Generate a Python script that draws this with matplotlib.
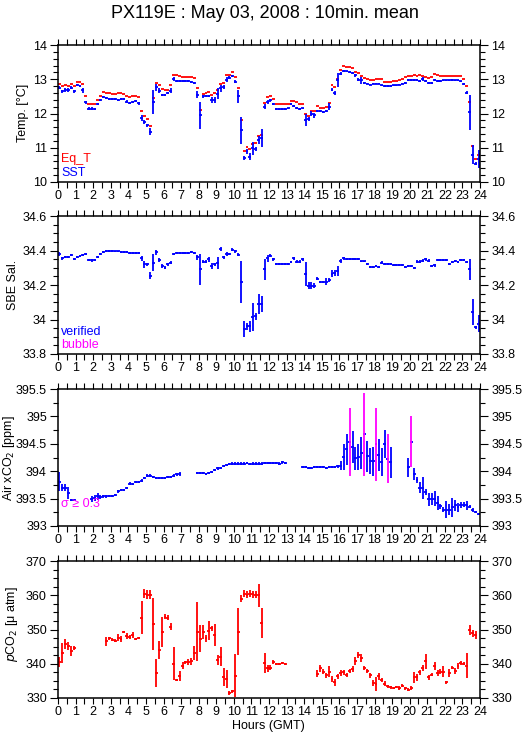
import numpy as np
import matplotlib.pyplot as plt
from matplotlib.ticker import MultipleLocator, FormatStrFormatter

plt.rcParams['font.family'] = ['Liberation Sans', 'DejaVu Sans']

nan = np.nan

# 10-minute means, 144 bins over the day (one row = one hour)
eq_t = [
    12.87, 12.80, 12.83, 12.80, 12.87, 12.80,
    12.93, 12.93, 12.87, 12.51, 12.29, 12.29,
    12.27, 12.39, 12.51, 12.62, 12.59, 12.59,
    12.57, 12.58, 12.59, 12.59, 12.57, 12.50,
    12.48, 12.51, 12.52, 12.48, 12.07, 11.92,
    11.85, 11.63, 12.45, 12.90, 12.82, 12.72,
    12.68, 12.68, 12.82, 13.12, 13.12, 13.10,
    13.08, 13.08, 13.07, 13.07, 13.05, 12.73,
    12.10, 12.58, 12.60, 12.63, 12.55, 12.60,
    12.68, 12.87, 12.88, 13.13, 13.13, 13.22,
    13.08, 12.73, 11.80, 10.90, 11.02, 10.95,
    11.10, 11.13, 11.35, 11.38, 12.30, 12.47,
    12.52, 12.42, 12.27, 12.27, 12.27, 12.27,
    12.27, 12.37, 12.37, 12.33, 12.27, 12.27,
    12.00, 11.93, 12.08, 12.07, 12.23, 12.17,
    12.15, 12.18, 12.30, 12.82, 12.77, 13.02,
    13.27, 13.38, 13.35, 13.35, 13.32, 13.22,
    13.17, 13.10, 13.03, 13.00, 12.97, 12.97,
    13.02, 13.02, 13.02, 12.93, 12.92, 12.93,
    12.95, 12.95, 12.97, 13.02, 13.07, 13.10,
    13.10, 13.12, 13.10, 13.13, 13.10, 13.07,
    13.05, 13.07, 13.15, 13.12, 13.10, 13.10,
    13.10, 13.10, 13.10, 13.10, 13.10, 13.10,
    13.00, 12.80, 12.35, 11.05, 10.68, 10.78,
]

sst = [
    12.75, 12.65, 12.68, 12.68, 12.75, 12.65,
    12.83, 12.80, 12.68, 12.33, 12.14, 12.14,
    12.13, 12.27, 12.39, 12.48, 12.46, 12.42,
    12.42, 12.41, 12.40, 12.42, 12.42, 12.34,
    12.32, 12.34, 12.36, 12.30, 11.87, 11.75,
    11.65, 11.47, 12.35, 12.77, 12.67, 12.55,
    12.55, 12.60, 12.67, 13.01, 12.95, 12.96,
    12.95, 12.95, 12.94, 12.93, 12.90, 12.55,
    11.95, 12.50, 12.52, 12.52, 12.40, 12.40,
    12.58, 12.73, 12.77, 12.99, 13.05, 13.10,
    12.93, 12.50, 11.51, 10.70, 10.90, 10.74,
    10.98, 10.96, 11.22, 11.29, 12.20, 12.33,
    12.38, 12.27, 12.13, 12.13, 12.13, 12.13,
    12.15, 12.27, 12.23, 12.17, 12.13, 12.15,
    11.81, 11.84, 11.99, 11.95, 12.08, 12.07,
    12.05, 12.08, 12.20, 12.70, 12.61, 12.97,
    13.16, 13.23, 13.23, 13.21, 13.19, 13.11,
    12.99, 12.97, 12.89, 12.87, 12.84, 12.87,
    12.87, 12.87, 12.82, 12.80, 12.80, 12.80,
    12.82, 12.82, 12.84, 12.87, 12.90, 12.97,
    12.97, 12.97, 12.97, 12.95, 13.00, 12.94,
    12.89, 12.90, 12.99, 12.95, 12.95, 12.97,
    12.97, 12.97, 12.98, 12.97, 12.97, 12.94,
    12.86, 12.61, 12.03, 10.80, 10.54, 10.67,
]

sst_sd = [
    0.04, 0.05, 0.05, 0.05, 0.04, 0.05,
    0.03, 0.04, 0.07, 0.04, 0.05, 0.05,
    0.03, 0.03, 0.03, 0.03, 0.03, 0.04,
    0.03, 0.03, 0.03, 0.03, 0.03, 0.04,
    0.03, 0.03, 0.03, 0.04, 0.10, 0.07,
    0.05, 0.10, 0.35, 0.10, 0.07, 0.03,
    0.03, 0.03, 0.07, 0.05, 0.03, 0.03,
    0.03, 0.03, 0.03, 0.03, 0.03, 0.10,
    0.40, 0.05, 0.03, 0.03, 0.08, 0.08,
    0.15, 0.10, 0.05, 0.07, 0.05, 0.03,
    0.05, 0.20, 0.40, 0.05, 0.07, 0.10,
    0.20, 0.05, 0.12, 0.27, 0.08, 0.05,
    0.04, 0.03, 0.02, 0.02, 0.02, 0.02,
    0.02, 0.03, 0.03, 0.03, 0.03, 0.02,
    0.18, 0.07, 0.07, 0.07, 0.03, 0.03,
    0.03, 0.03, 0.10, 0.04, 0.06, 0.20,
    0.04, 0.03, 0.02, 0.02, 0.03, 0.03,
    0.05, 0.10, 0.03, 0.02, 0.02, 0.02,
    0.02, 0.02, 0.02, 0.02, 0.02, 0.02,
    0.02, 0.02, 0.02, 0.02, 0.03, 0.03,
    0.03, 0.03, 0.03, 0.03, 0.06, 0.03,
    0.03, 0.03, 0.03, 0.02, 0.02, 0.02,
    0.02, 0.02, 0.02, 0.02, 0.02, 0.02,
    0.03, 0.04, 0.50, 0.27, 0.03, 0.27,
]

sal = [
    34.380, 34.355, 34.360, 34.360, 34.375, 34.350,
    34.365, 34.370, 34.375, 34.380, 34.345, 34.343,
    34.345, 34.360, 34.380, 34.390, 34.397, 34.397,
    34.397, 34.395, 34.395, 34.393, 34.390, 34.390,
    34.385, 34.385, 34.385, 34.385, 34.355, 34.320,
    34.320, 34.253, 34.330, 34.390, 34.345, 34.310,
    34.300, 34.320, 34.330, 34.380, 34.385, 34.385,
    34.385, 34.385, 34.385, 34.390, 34.385, 34.360,
    34.290, 34.335, 34.335, 34.350, 34.310, 34.320,
    34.330, 34.410, 34.360, 34.380, 34.380, 34.405,
    34.395, 34.375, 34.217, 33.946, 33.960, 33.960,
    34.013, 34.020, 34.090, 34.090, 34.290, 34.355,
    34.370, 34.350, 34.320, 34.320, 34.320, 34.320,
    34.320, 34.335, 34.355, 34.335, 34.335, 34.350,
    34.263, 34.195, 34.195, 34.195, 34.236, 34.218,
    34.218, 34.218, 34.230, 34.265, 34.270, 34.280,
    34.340, 34.355, 34.350, 34.350, 34.350, 34.350,
    34.350, 34.337, 34.337, 34.320, 34.305, 34.305,
    34.310, 34.305, 34.330, 34.320, 34.320, 34.320,
    34.315, 34.315, 34.318, 34.315, 34.305, 34.310,
    34.310, 34.300, 34.335, 34.335, 34.340, 34.350,
    34.340, 34.310, 34.315, 34.343, 34.343, 34.343,
    34.343, 34.323, 34.335, 34.340, 34.333, 34.345,
    34.345, 34.333, 34.290, 34.045, 33.955, 33.975,
]

sal_sd = [
    0.010, 0.008, 0.006, 0.006, 0.006, 0.006,
    0.006, 0.006, 0.006, 0.008, 0.008, 0.008,
    0.006, 0.006, 0.006, 0.006, 0.006, 0.006,
    0.005, 0.005, 0.005, 0.005, 0.005, 0.005,
    0.005, 0.005, 0.005, 0.005, 0.015, 0.020,
    0.010, 0.020, 0.050, 0.015, 0.010, 0.010,
    0.010, 0.010, 0.010, 0.008, 0.005, 0.005,
    0.005, 0.005, 0.005, 0.005, 0.005, 0.015,
    0.090, 0.010, 0.010, 0.015, 0.020, 0.010,
    0.035, 0.012, 0.008, 0.010, 0.008, 0.008,
    0.008, 0.008, 0.120, 0.045, 0.020, 0.030,
    0.080, 0.020, 0.060, 0.045, 0.060, 0.020,
    0.010, 0.008, 0.005, 0.005, 0.005, 0.005,
    0.005, 0.005, 0.008, 0.008, 0.008, 0.008,
    0.070, 0.020, 0.020, 0.015, 0.008, 0.005,
    0.005, 0.020, 0.010, 0.020, 0.015, 0.030,
    0.010, 0.008, 0.005, 0.005, 0.005, 0.005,
    0.005, 0.005, 0.005, 0.005, 0.005, 0.005,
    0.005, 0.005, 0.008, 0.005, 0.005, 0.005,
    0.005, 0.005, 0.005, 0.005, 0.005, 0.005,
    0.005, 0.005, 0.010, 0.010, 0.008, 0.008,
    0.008, 0.008, 0.008, 0.005, 0.005, 0.005,
    0.005, 0.005, 0.005, 0.005, 0.005, 0.005,
    0.005, 0.005, 0.060, 0.075, 0.010, 0.050,
]

air_xco2 = [
    393.81, 393.70, 393.70, 393.61, 393.47, 393.47,
    nan, nan, nan, nan, nan, 393.49,
    393.51, 393.54, 393.53, 393.54, 393.54, 393.55,
    393.55, 393.56, 393.63, 393.66, 393.66, 393.69,
    393.77, 393.77, 393.80, 393.80, 393.83, 393.87,
    393.92, 393.92, 393.89, 393.88, 393.87, 393.87,
    393.87, 393.89, 393.90, 393.92, 393.94, 393.95,
    nan, nan, nan, nan, nan, 393.96,
    393.96, 393.96, 393.95, 393.96, 393.98, 394.02,
    394.05, 394.06, 394.09, 394.12, 394.13, 394.14,
    394.14, 394.14, 394.14, 394.14, 394.15, 394.13,
    394.14, 394.14, 394.14, 394.14, 394.15, 394.15,
    394.15, 394.15, 394.15, 394.14, 394.16, 394.15,
    nan, nan, nan, nan, nan, 394.08,
    394.08, 394.06, 394.06, 394.07, 394.08, 394.07,
    394.07, 394.06, 394.07, 394.07, 394.08, 394.09,
    394.10, 394.26, 394.40, 394.54, 394.44, 394.24,
    394.26, 394.33, 394.67, 394.27, 394.18, 394.18,
    394.49, 394.30, 394.17, 394.50, 394.23, 394.16,
    nan, nan, nan, nan, nan, 394.07,
    394.54, 393.95, 393.84, 393.70, 393.70, 393.62,
    393.49, 393.49, 393.50, 393.42, 393.36, 393.30,
    393.30, 393.30, 393.34, 393.38, 393.34, 393.38,
    393.39, 393.38, 393.35, 393.29, 393.25, 393.22,
]

air_sd = [
    0.18, 0.07, 0.07, 0.11, 0.02, 0.02,
    nan, nan, nan, nan, nan, 0.06,
    0.05, 0.06, 0.04, 0.03, 0.03, 0.02,
    0.02, 0.02, 0.03, 0.02, 0.02, 0.02,
    0.03, 0.02, 0.02, 0.02, 0.02, 0.02,
    0.02, 0.02, 0.02, 0.02, 0.02, 0.02,
    0.02, 0.02, 0.02, 0.02, 0.02, 0.03,
    nan, nan, nan, nan, nan, 0.02,
    0.02, 0.02, 0.02, 0.02, 0.02, 0.02,
    0.02, 0.02, 0.02, 0.02, 0.02, 0.02,
    0.02, 0.02, 0.02, 0.02, 0.02, 0.02,
    0.02, 0.02, 0.02, 0.02, 0.02, 0.02,
    0.02, 0.02, 0.02, 0.02, 0.02, 0.02,
    nan, nan, nan, nan, nan, 0.02,
    0.02, 0.02, 0.02, 0.02, 0.02, 0.02,
    0.02, 0.02, 0.02, 0.02, 0.02, 0.03,
    0.08, 0.24, 0.28, 0.62, 0.29, 0.21,
    0.23, 0.29, 0.76, 0.28, 0.24, 0.26,
    0.67, 0.29, 0.26, 0.25, 0.44, 0.29,
    nan, nan, nan, nan, nan, 0.18,
    0.46, 0.11, 0.05, 0.10, 0.20, 0.05,
    0.12, 0.11, 0.14, 0.12, 0.05, 0.05,
    0.15, 0.10, 0.17, 0.10, 0.08, 0.05,
    0.05, 0.08, 0.03, 0.03, 0.02, 0.02,
]

pco2 = [
    340.5, 343.1, 345.8, 345.2, 343.8, 344.7,
    nan, nan, nan, nan, nan, nan,
    nan, nan, nan, nan, 346.5, 347.4,
    347.0, 346.7, 347.6, 347.2, 349.2, 348.1,
    347.9, 348.4, 347.2, 347.4, 353.5, 360.5,
    360.2, 360.2, 351.6, 337.3, 344.0, 349.3,
    353.7, 353.5, 350.8, 340.0, 335.3, 336.5,
    339.4, 340.4, 340.5, 340.7, 343.1, 349.4,
    347.3, 349.2, 347.4, 349.7, 350.3, 348.4,
    341.0, 342.1, 336.1, 335.5, 331.5, 331.9,
    336.5, 349.4, 359.0, 360.5, 360.2, 360.5,
    360.3, 360.2, 360.0, 351.8, 340.2, 338.7,
    338.9, 340.5, 340.0, 340.0, 340.2, 340.0,
    nan, nan, nan, nan, nan, nan,
    nan, nan, nan, nan, 337.1, 338.7,
    337.7, 336.6, 337.7, 335.5, 334.6, 336.3,
    337.3, 337.5, 336.8, 337.9, 338.4, 340.7,
    342.6, 341.6, 338.7, 337.9, 336.6, 334.4,
    334.1, 336.3, 335.3, 334.2, 333.4, 333.1,
    332.9, 333.2, 332.9, 333.6, 332.8, 332.4,
    332.9, 336.0, 336.0, 337.5, 338.7, 340.7,
    336.0, 336.8, 339.4, 337.3, 337.7, 337.7,
    334.6, 337.3, 338.9, 337.9, 339.4, 340.2,
    340.0, 339.4, 349.9, 348.9, 348.4, nan,
]

pco2_sd = [
    1.5, 3.0, 1.5, 1.2, 1.5, 0.6,
    nan, nan, nan, nan, nan, nan,
    nan, nan, nan, nan, 1.2, 0.5,
    0.4, 0.4, 1.0, 0.8, 0.3, 1.0,
    0.6, 1.0, 0.3, 0.3, 4.7, 1.2,
    1.2, 1.2, 7.6, 4.2, 2.5, 4.3,
    0.7, 0.7, 1.0, 4.8, 0.3, 1.4,
    1.0, 0.5, 0.8, 1.0, 2.0, 8.5,
    3.9, 2.0, 1.0, 2.8, 0.6, 3.2,
    1.5, 2.9, 2.6, 2.6, 0.6, 0.5,
    6.3, 6.8, 1.0, 1.0, 1.0, 1.0,
    1.0, 1.0, 3.4, 4.4, 3.0, 1.0,
    0.6, 0.5, 0.3, 0.3, 0.3, 0.3,
    nan, nan, nan, nan, nan, nan,
    nan, nan, nan, nan, 1.0, 1.0,
    0.8, 0.8, 1.7, 0.8, 1.0, 0.8,
    0.8, 0.8, 0.6, 0.5, 0.8, 1.2,
    0.8, 1.2, 0.6, 0.6, 0.8, 1.0,
    2.0, 1.0, 0.6, 0.8, 0.5, 0.4,
    0.4, 0.4, 0.5, 0.5, 0.5, 0.4,
    0.6, 1.6, 1.0, 0.8, 0.8, 2.1,
    0.8, 0.5, 1.2, 0.8, 0.8, 1.6,
    0.4, 1.2, 0.5, 0.8, 0.8, 0.6,
    0.5, 3.7, 1.5, 1.0, 1.2, nan,
]

BLUE = '#0000ff'
RED = '#ff0000'
MAGENTA = '#ff00ff'
LW = 1.3
hours = (np.arange(144) + 0.5) / 6.0


def marks(ax, y, sd, color, sdcolor=None):
    y = np.asarray(y, float)
    ax.errorbar(hours, y, xerr=1 / 12.0, fmt='none', ecolor=color,
                elinewidth=LW, capsize=0)
    if sd is not None:
        ax.errorbar(hours, y, yerr=np.asarray(sd, float), fmt='none',
                    ecolor=sdcolor or color, elinewidth=LW, capsize=0)


fig = plt.figure(figsize=(5.29, 7.39), dpi=100)
W, H = 529.0, 739.0
panels = [(45, 182), (216, 354), (389, 526), (561, 698)]
axes = []
for top, bot in panels:
    ax = fig.add_axes([58 / W, 1 - bot / H, 422 / W, (bot - top) / H])
    ax.set_xlim(0, 24)
    ax.xaxis.set_major_locator(MultipleLocator(1))
    ax.xaxis.set_minor_locator(MultipleLocator(0.5))
    ax.tick_params(which='both', direction='out', top=True, right=True,
                   labelright=True, labelsize=9, width=0.8, pad=2)
    ax.tick_params(axis='x', which='both', length=4)
    ax.tick_params(axis='y', which='major', length=6)
    ax.tick_params(axis='y', which='minor', length=3.5)
    ax.yaxis.set_major_formatter(FormatStrFormatter('%g'))
    for s in ax.spines.values():
        s.set_linewidth(1.1)
    axes.append(ax)

ax1, ax2, ax3, ax4 = axes

# temperature
marks(ax1, eq_t, None, RED)
marks(ax1, sst, sst_sd, BLUE)
ax1.set_ylim(10, 14)
ax1.yaxis.set_major_locator(MultipleLocator(1))
ax1.yaxis.set_minor_locator(MultipleLocator(0.2))
ax1.text(0.008, 0.165, 'Eq_T', color=RED, fontsize=9, transform=ax1.transAxes, va='center')
ax1.text(0.008, 0.065, 'SST', color=BLUE, fontsize=9, transform=ax1.transAxes, va='center')

# salinity
marks(ax2, sal, sal_sd, BLUE)
ax2.set_ylim(33.8, 34.6)
ax2.yaxis.set_major_locator(MultipleLocator(0.2))
ax2.yaxis.set_minor_locator(MultipleLocator(0.05))
ax2.text(0.008, 0.16, 'verified', color=BLUE, fontsize=9, transform=ax2.transAxes, va='center')
ax2.text(0.008, 0.065, 'bubble', color=MAGENTA, fontsize=9, transform=ax2.transAxes, va='center')

# atmospheric xCO2, standard deviation >= 0.3 flagged magenta
air_sd_arr = np.asarray(air_sd, float)
flag = air_sd_arr >= 0.3
marks(ax3, air_xco2, np.where(flag, nan, air_sd_arr), BLUE)
ax3.errorbar(hours, np.asarray(air_xco2, float), yerr=np.where(flag, air_sd_arr, nan),
             fmt='none', ecolor=MAGENTA, elinewidth=LW, capsize=0)
ax3.set_ylim(393, 395.5)
ax3.yaxis.set_major_locator(MultipleLocator(0.5))
ax3.yaxis.set_minor_locator(MultipleLocator(0.25))
ax3.text(0.008, 0.16, '\u03c3 \u2265 0.3', color=MAGENTA, fontsize=9, transform=ax3.transAxes, va='center')

# seawater pCO2
marks(ax4, pco2, pco2_sd, RED)
ax4.set_ylim(330, 370)
ax4.yaxis.set_major_locator(MultipleLocator(10))
ax4.yaxis.set_minor_locator(MultipleLocator(2.5))

fig.text(0.5, 1 - 14 / H, 'PX119E : May 03, 2008 : 10min. mean', ha='center', va='center', fontsize=13)
fig.text(23 / W, 1 - 113 / H, 'Temp. [\u00b0C]', rotation=90, ha='center', va='center', fontsize=9)
fig.text(13 / W, 1 - 285 / H, 'SBE Sal.', rotation=90, ha='center', va='center', fontsize=9)
fig.text(9 / W, 1 - 458 / H, 'Air xCO$_2$ [ppm]', rotation=90, ha='center', va='center', fontsize=9)
fig.text(12 / W, 1 - 624 / H, '$p$CO$_2$ [\u03bc atm]', rotation=90, ha='center', va='center', fontsize=9)
fig.text(268 / W, 1 - 726 / H, 'Hours (GMT)', ha='center', va='center', fontsize=9)

fig.savefig('out.png', dpi=100)
